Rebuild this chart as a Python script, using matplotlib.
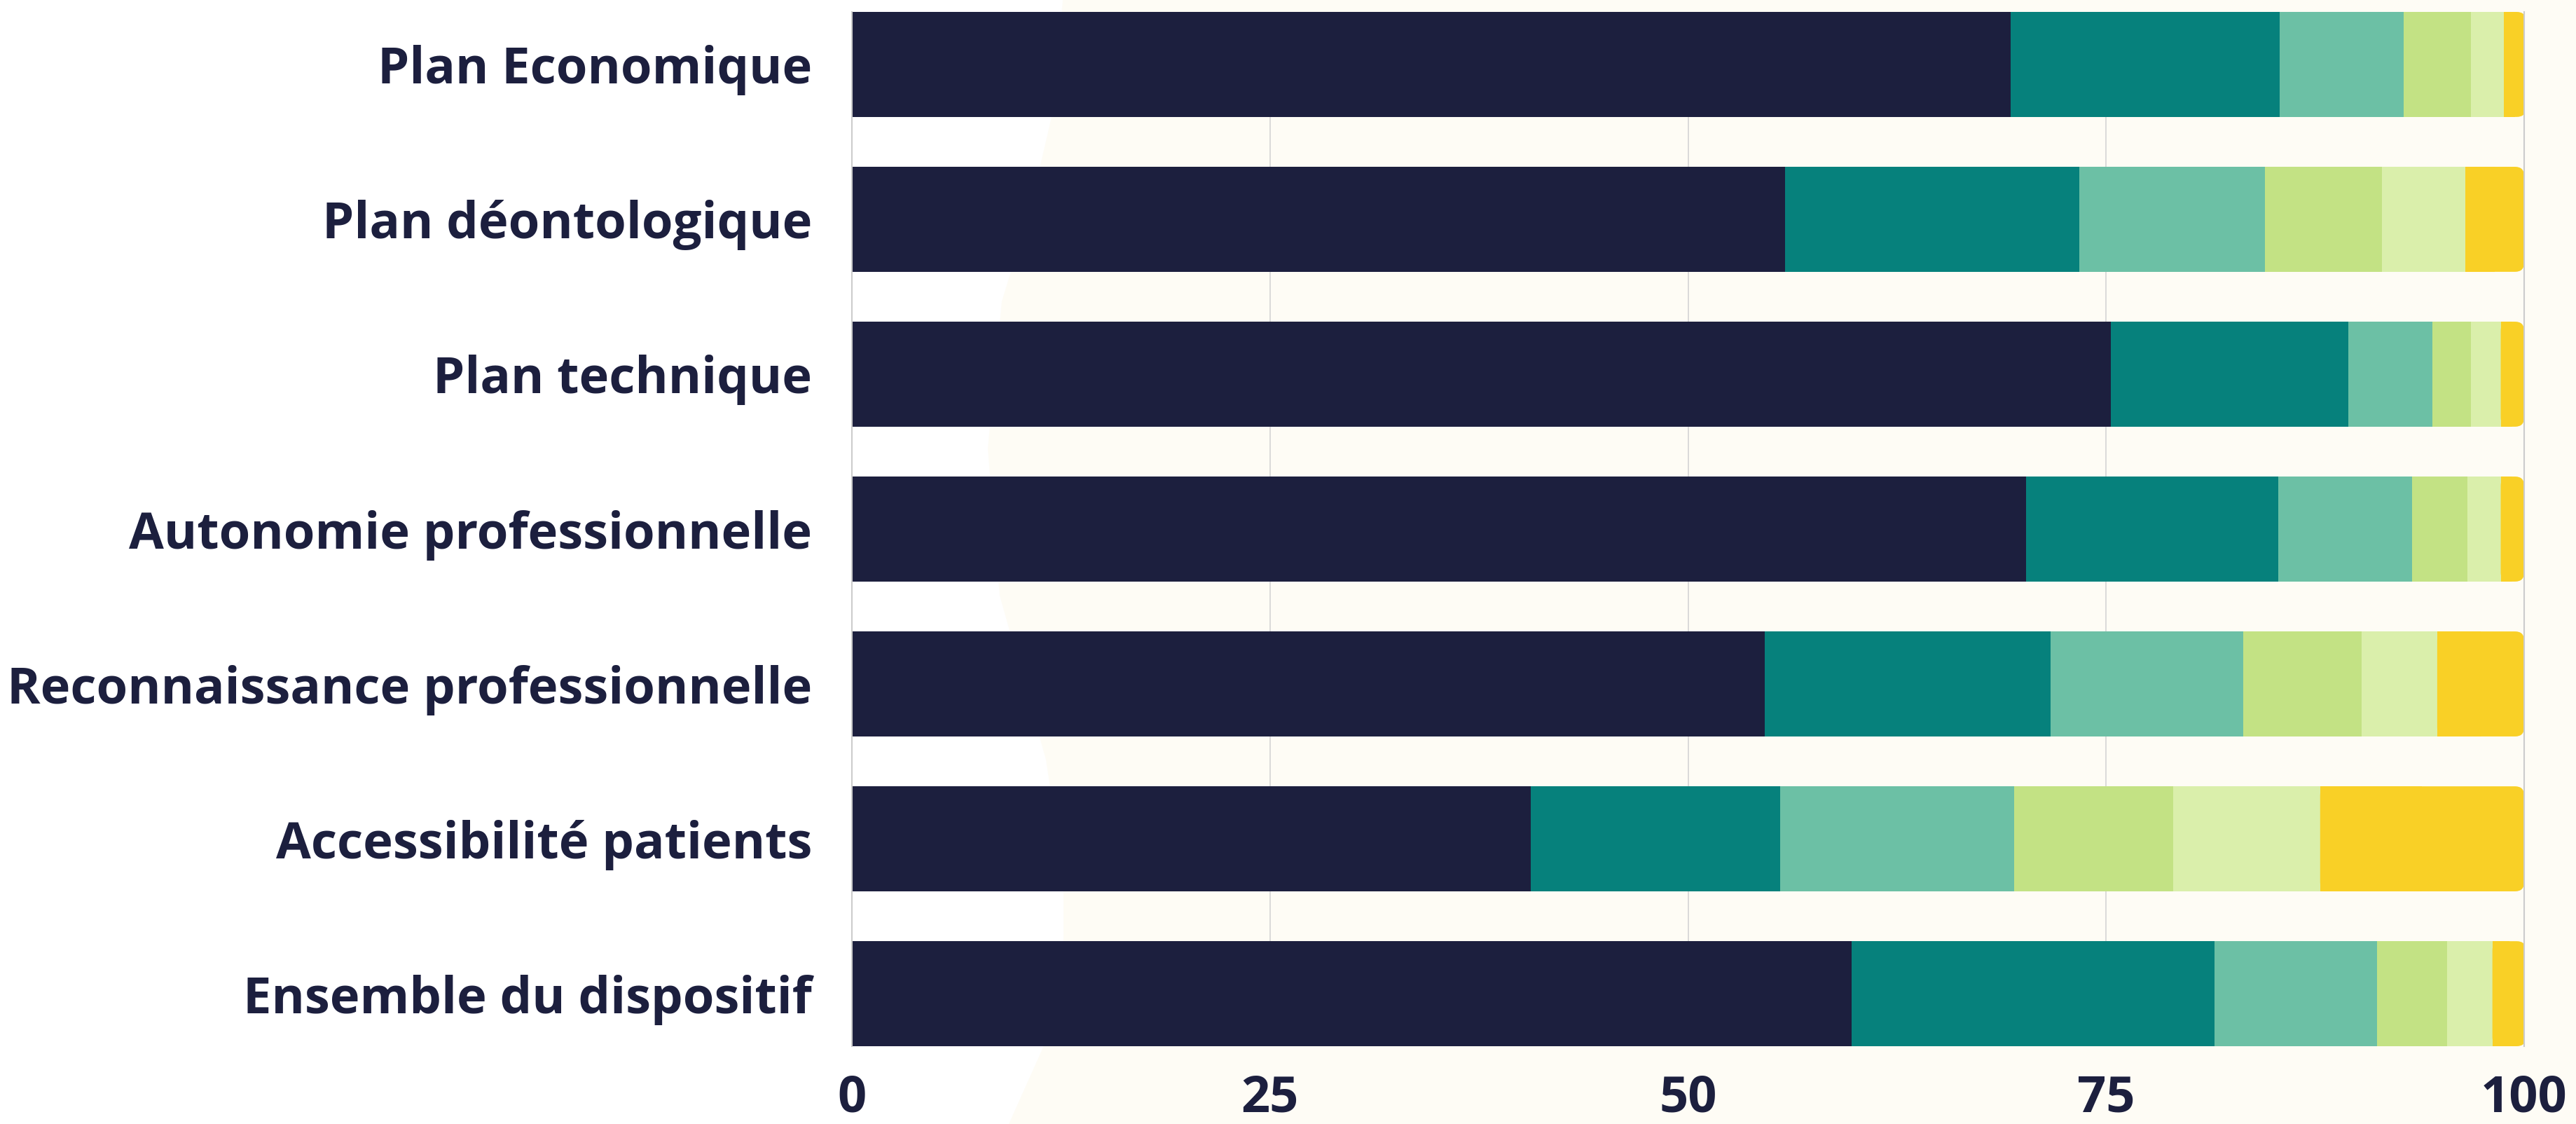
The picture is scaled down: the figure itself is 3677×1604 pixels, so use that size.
import matplotlib.pyplot as plt
from matplotlib.patches import Polygon, FancyBboxPatch

plt.rcParams['font.family'] = ['Open Sans', 'DejaVu Sans']

categories = ['Plan Economique', 'Plan déontologique', 'Plan technique',
              'Autonomie professionnelle', 'Reconnaissance professionnelle',
              'Accessibilité patients', 'Ensemble du dispositif']

# six answer levels, from darkest to yellow (percent)
level1 = [69.3, 55.8, 75.3, 70.2, 54.6, 40.6, 59.8]
level2 = [16.1, 17.6, 14.2, 15.1, 17.1, 14.9, 21.7]
level3 = [7.4, 11.1, 5.0, 8.0, 11.5, 14.0, 9.7]
level4 = [4.0, 7.0, 2.3, 3.3, 7.1, 9.5, 4.2]
level5 = [2.0, 5.0, 1.8, 2.0, 4.5, 8.8, 2.7]
level6 = [1.3, 3.5, 1.4, 1.4, 5.2, 12.2, 2.0]

levels = [level1, level2, level3, level4, level5, level6]
colors = ['#1c1f3e', '#06817c', '#6cc0a5', '#c3e284', '#daefab', '#f9d026']
ticks = [0, 25, 50, 75, 100]
navy = '#1c1f3e'

W, H = 3677, 1604
fig = plt.figure(figsize=(W / 100, H / 100), dpi=100)
fig.patch.set_facecolor('white')

# faint cream shape in the background
blob = [(1517, 0), (1505, 150), (1470, 300), (1430, 430), (1410, 640), (1427, 850),
        (1493, 1084), (1518, 1250), (1518, 1340), (1500, 1470), (1440, 1604),
        (W, H), (W, 0)]
fig.patches.append(Polygon([(x / W, 1 - y / H) for x, y in blob], closed=True,
                           transform=fig.transFigure, facecolor='#fefcf5',
                           edgecolor='none', zorder=-10))

ax = fig.add_axes([1216 / W, 1 - 1493 / H, (3603 - 1216) / W, (1493 - 17) / H])
ax.set_zorder(1)
ax.patch.set_alpha(0)

bar_h = 0.678
y = list(range(len(categories)))
left = [0.0] * len(categories)
for i, (vals, c) in enumerate(zip(levels, colors)):
    if i < len(levels) - 1:
        ax.barh(y, vals, left=left, height=bar_h, color=c, zorder=2)
    else:
        # last segment: rounded right end
        for yi, l, v in zip(y, left, vals):
            rx = 0.54
            ax.add_patch(FancyBboxPatch((l, yi - bar_h / 2), v, bar_h,
                                        boxstyle=f'round,pad=0,rounding_size={rx}',
                                        mutation_aspect=0.109, facecolor=c,
                                        edgecolor='none', zorder=2))
            ax.barh(yi, v / 2, left=l, height=bar_h, color=c, zorder=2)
    left = [a + b for a, b in zip(left, vals)]

ax.set_xlim(0, 100)
ax.set_ylim(len(categories) - 1 + bar_h / 2, -bar_h / 2)
ax.set_yticks(y)
ax.set_yticklabels(categories)
ax.set_xticks(ticks)
ax.set_xticklabels([str(t) for t in ticks])
ax.tick_params(axis='both', length=0, labelsize=52, labelcolor=navy)
ax.tick_params(axis='y', pad=41)
ax.tick_params(axis='x', pad=28)
for lab in ax.get_xticklabels() + ax.get_yticklabels():
    lab.set_fontweight('bold')

ax.grid(axis='x', color='#d4d4d4', linewidth=1.2, zorder=1)
ax.set_axisbelow(True)
for s in ['top', 'bottom']:
    ax.spines[s].set_visible(False)
for s in ['left', 'right']:
    ax.spines[s].set_color('#cccccc')
    ax.spines[s].set_linewidth(1.5)

fig.savefig('out.png', dpi=100)
